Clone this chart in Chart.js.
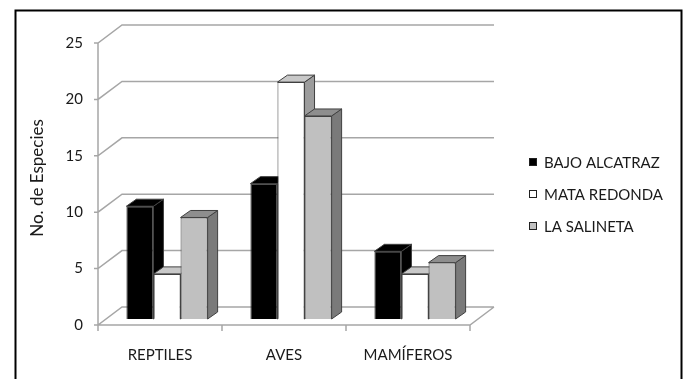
<!DOCTYPE html>
<html>
<head>
<meta charset="utf-8">
<script src="https://cdn.jsdelivr.net/npm/chart.js@4.4.1/dist/chart.umd.min.js"></script>
<style>
  html, body { margin: 0; padding: 0; background: #fff; }
  #wrap { width: 686px; height: 379px; position: relative; }
</style>
</head>
<body>
<div id="wrap"><canvas id="speciesChart"></canvas></div>
<script>
// ================= DATA =================
const categories = ['REPTILES', 'AVES', 'MAMÍFEROS'];
const seriesNames = ['BAJO ALCATRAZ', 'MATA REDONDA', 'LA SALINETA'];
const bajoAlcatraz = [10, 12, 6];
const mataRedonda = [4, 21, 4];
const laSalineta = [9, 18, 5];
const yTicks = [0, 5, 10, 15, 20, 25];
const yTitle = 'No. de Especies';

// ================= 3D LOOK =================
const FRONT = { dx: -7, dy: 6 };    // front plane, relative to the bar plane
const FLOOR = { dx: 24, dy: -18 };  // depth of the walls
const BAR = { dx: 10, dy: -7 };     // depth of each bar
const FONT = 'Lato, "Open Sans", sans-serif';
const TEXT = '#1a1a1a';

function face(ctx, pts, fill) {
  ctx.fillStyle = fill;
  ctx.beginPath();
  pts.forEach(([px, py], i) => (i ? ctx.lineTo(px, py) : ctx.moveTo(px, py)));
  ctx.closePath();
  ctx.fill();
  ctx.stroke();
}

const fake3d = {
  id: 'fake3d',
  beforeDatasetsDraw(chart) {
    const { ctx, chartArea: ca, scales: { x, y } } = chart;
    const left = ca.left + FRONT.dx, right = ca.right + FRONT.dx;
    const fy = v => y.getPixelForValue(v) + FRONT.dy;
    ctx.save();
    ctx.strokeStyle = '#a6a6a6';
    ctx.lineWidth = 1.5;
    ctx.beginPath();
    yTicks.forEach(v => {
      const py = fy(v);
      ctx.moveTo(left - 4, py);
      ctx.lineTo(left, py);
      ctx.lineTo(left + FLOOR.dx, py + FLOOR.dy);
      ctx.lineTo(right + FLOOR.dx, py + FLOOR.dy);
    });
    // front axis and floor
    const y0 = fy(0);
    ctx.moveTo(left, fy(yTicks[yTicks.length - 1]));
    ctx.lineTo(left, y0);
    ctx.lineTo(right, y0);
    ctx.lineTo(right + FLOOR.dx, y0 + FLOOR.dy);
    for (let i = 0; i <= categories.length; i++) {
      const px = x.getPixelForValue(i - 0.5) + FRONT.dx;
      ctx.moveTo(px, y0);
      ctx.lineTo(px, y0 + 6);
    }
    ctx.stroke();
    ctx.restore();
  },
  // bars are painted below, left to right, so each box hides the one before
  beforeDatasetDraw() {
    return false;
  },
  afterDatasetsDraw(chart) {
    const { ctx } = chart;
    chart.data.datasets.forEach((ds, i) => {
      chart.getDatasetMeta(i).data.forEach(bar => {
        bar.draw(ctx);
        const { x, y, base, width } = bar.getProps(['x', 'y', 'base', 'width'], true);
        const l = x - width / 2, r = x + width / 2;
        ctx.save();
        ctx.strokeStyle = '#404040';
        ctx.lineWidth = 1;
        face(ctx, [[r, y], [r + BAR.dx, y + BAR.dy], [r + BAR.dx, base + BAR.dy], [r, base]], ds.sideColor);
        face(ctx, [[l, y], [r, y], [r + BAR.dx, y + BAR.dy], [l + BAR.dx, y + BAR.dy]], ds.topColor);
        ctx.restore();
      });
    });
  },
  afterDraw(chart) {
    const { ctx } = chart;
    ctx.save();
    // legend, right of the plot
    ctx.font = '15px ' + FONT;
    ctx.textBaseline = 'middle';
    ctx.lineWidth = 1;
    chart.data.datasets.forEach((ds, i) => {
      const cy = 162 + i * 32;
      ctx.fillStyle = ds.backgroundColor;
      ctx.fillRect(529.5, cy - 3.5, 7, 7);
      ctx.strokeStyle = '#202020';
      ctx.strokeRect(529.5, cy - 3.5, 7, 7);
      ctx.fillStyle = TEXT;
      ctx.fillText(ds.label, 544, cy + 1);
    });
    // frame
    ctx.strokeStyle = '#000';
    ctx.lineWidth = 2;
    ctx.strokeRect(15.5, 10.5, 666, 420);
    ctx.restore();
  }
};

new Chart(document.getElementById('speciesChart'), {
  type: 'bar',
  data: {
    labels: categories,
    datasets: [
      { label: seriesNames[0], data: bajoAlcatraz, backgroundColor: '#000000', topColor: '#000000', sideColor: '#000000' },
      { label: seriesNames[1], data: mataRedonda, backgroundColor: '#ffffff', topColor: '#c8c8c8', sideColor: '#9c9c9c' },
      { label: seriesNames[2], data: laSalineta, backgroundColor: '#c0c0c0', topColor: '#8e8e8e', sideColor: '#7a7a7a' }
    ].map(d => Object.assign(d, {
      borderColor: '#404040',
      borderWidth: 1,
      barPercentage: 1,
      categoryPercentage: 0.655
    }))
  },
  options: {
    responsive: true,
    maintainAspectRatio: false,
    animation: false,
    layout: { padding: { left: 20, top: 37, right: 209, bottom: 0 } },
    plugins: {
      tooltip: { enabled: false },
      legend: { display: false }
    },
    scales: {
      x: {
        grid: { display: false, drawTicks: false },
        border: { display: false },
        ticks: { padding: 27, labelOffset: FRONT.dx, color: TEXT, font: { family: FONT, size: 15 } },
        afterFit: s => { s.height = 60; }
      },
      y: {
        min: 0,
        max: 25,
        grid: { display: false, drawTicks: false },
        border: { display: false },
        ticks: { padding: 22, labelOffset: FRONT.dy, color: TEXT, font: { family: FONT, size: 15 } },
        afterBuildTicks: s => { s.ticks = yTicks.map(v => ({ value: v })); },
        title: { display: true, text: yTitle, color: TEXT, padding: { top: 7 }, font: { family: FONT, size: 17 } },
        afterFit: s => { s.width = 85; }
      }
    }
  },
  plugins: [fake3d]
});
</script>
</body>
</html>
